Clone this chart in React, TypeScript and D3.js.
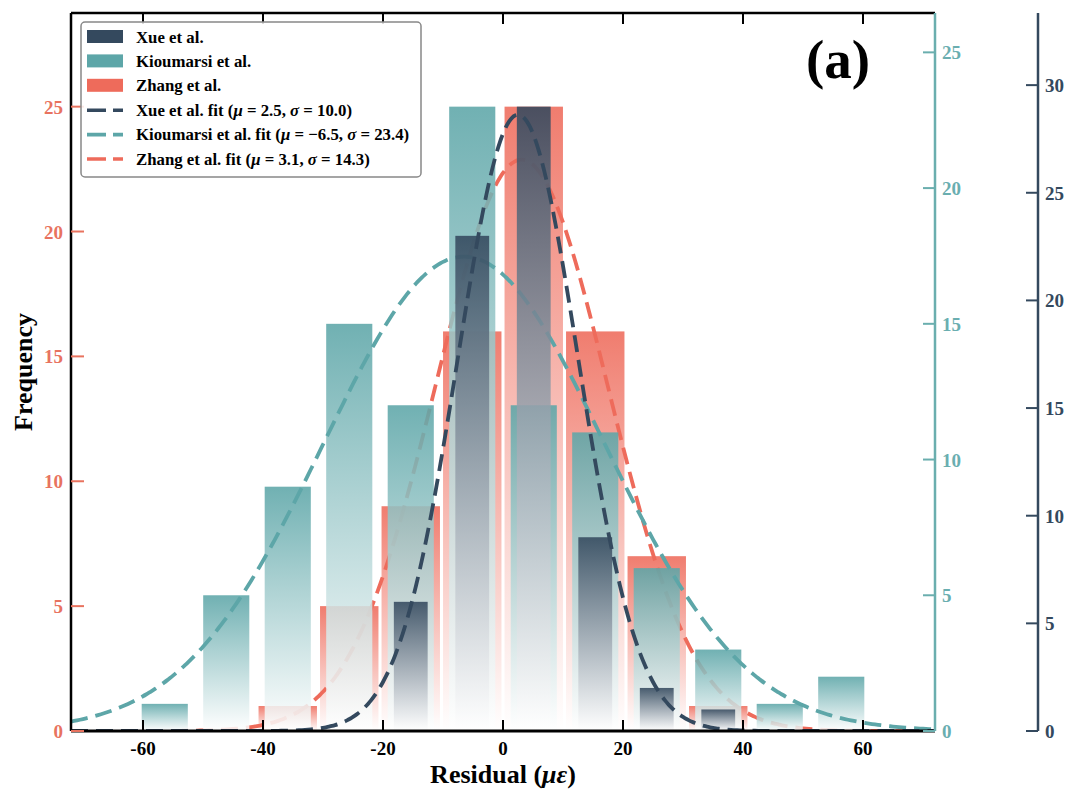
import React, { useRef, useLayoutEffect } from "react";
import * as d3 from "d3";

// shared histogram bin edges (µε)
const binEdges = [-61.5, -51.25, -41, -30.75, -20.5, -10.25, 0, 10.25, 20.5, 30.75, 41, 51.25, 61.5];

const zhangCounts = [0, 0, 1, 5, 9, 16, 25, 16, 7, 1, 0, 0];
const kioumarsiCounts = [1, 5, 9, 15, 12, 23, 12, 11, 6, 3, 1, 2];
const xueCounts = [0, 0, 0, 0, 6, 23, 29, 9, 2, 1, 0, 0];

const seriesNames = ["Xue et al.", "Kioumarsi et al.", "Zhang et al."];
const fitMu = [2.5, -6.5, 3.1];
const fitSigma = [10.0, 23.4, 14.3];

const xTicks = [-60, -40, -20, 0, 20, 40, 60];
const leftTicks = [0, 5, 10, 15, 20, 25];
const tealTicks = [0, 5, 10, 15, 20, 25];
const darkTicks = [0, 5, 10, 15, 20, 25, 30];

const RED = "#ee6b5b";
const TEAL = "#5da6a8";
const DARK = "#34495e";
const FONT = "'Liberation Serif', 'Times New Roman', serif";

const W = 1080;
const H = 804;
const plot = { left: 71, right: 935, top: 13, bottom: 731 };
const darkAxisX = 1038;

type Series = {
  key: string;
  counts: number[];
  color: string;
  rwidth: number;
  mu: number;
  sigma: number;
};

const App: React.FC = () => {
  const svgRef = useRef<SVGSVGElement>(null);

  useLayoutEffect(() => {
    document.body.style.margin = "0";
    if (!svgRef.current) return;
    const svg = d3.select(svgRef.current);
    svg.selectAll("*").remove();

    const x = d3.scaleLinear().domain([-72, 72]).range([plot.left, plot.right]);
    const yRed = d3.scaleLinear().domain([0, d3.max(zhangCounts)! * 1.15]).range([plot.bottom, plot.top]);
    const yTeal = d3.scaleLinear().domain([0, d3.max(kioumarsiCounts)! * 1.15]).range([plot.bottom, plot.top]);
    const yDark = d3.scaleLinear().domain([0, d3.max(xueCounts)! * 1.15]).range([plot.bottom, plot.top]);

    const defs = svg.append("defs");
    defs
      .append("clipPath")
      .attr("id", "plotClip")
      .append("rect")
      .attr("x", plot.left)
      .attr("y", plot.top)
      .attr("width", plot.right - plot.left)
      .attr("height", plot.bottom - plot.top);

    const series: (Series & { y: d3.ScaleLinear<number, number> })[] = [
      { key: "zhang", counts: zhangCounts, color: RED, rwidth: 0.95, mu: fitMu[2], sigma: fitSigma[2], y: yRed },
      { key: "kio", counts: kioumarsiCounts, color: TEAL, rwidth: 0.75, mu: fitMu[1], sigma: fitSigma[1], y: yTeal },
      { key: "xue", counts: xueCounts, color: DARK, rwidth: 0.55, mu: fitMu[0], sigma: fitSigma[0], y: yDark },
    ];

    series.forEach((s) => {
      const g = defs
        .append("linearGradient")
        .attr("id", `grad-${s.key}`)
        .attr("x1", 0)
        .attr("y1", 0)
        .attr("x2", 0)
        .attr("y2", 1);
      g.append("stop").attr("offset", "0%").attr("stop-color", s.color).attr("stop-opacity", 0.88);
      g.append("stop").attr("offset", "100%").attr("stop-color", "#ffffff").attr("stop-opacity", 0.85);
    });

    const body = svg.append("g").attr("clip-path", "url(#plotClip)");
    const binW = binEdges[1] - binEdges[0];

    // each twin axis: bars then its fitted curve
    series.forEach((s) => {
      const total = d3.sum(s.counts);
      const bins = s.counts
        .map((c, i) => ({ c, x0: binEdges[i], x1: binEdges[i + 1] }))
        .filter((d) => d.c > 0);

      body
        .append("g")
        .selectAll("rect")
        .data(bins)
        .join("rect")
        .attr("x", (d) => x((d.x0 + d.x1) / 2 - ((d.x1 - d.x0) * s.rwidth) / 2))
        .attr("width", (d) => x(d.x0 + (d.x1 - d.x0) * s.rwidth) - x(d.x0))
        .attr("y", (d) => s.y(d.c))
        .attr("height", (d) => s.y(0) - s.y(d.c))
        .attr("fill", `url(#grad-${s.key})`);

      const pdf = (v: number) =>
        (total * binW * Math.exp(-0.5 * ((v - s.mu) / s.sigma) ** 2)) / (s.sigma * Math.sqrt(2 * Math.PI));
      const pts = d3.range(-72, 72.01, 0.5);
      const line = d3
        .line<number>()
        .x((v) => x(v))
        .y((v) => s.y(pdf(v)))
        .curve(d3.curveMonotoneX);
      body
        .append("path")
        .datum(pts)
        .attr("d", line)
        .attr("fill", "none")
        .attr("stroke", s.color)
        .attr("stroke-width", 3.8)
        .attr("stroke-dasharray", "17 8");
    });

    // spines
    const frame = svg.append("g");
    frame
      .append("line")
      .attr("x1", plot.left)
      .attr("x2", plot.right)
      .attr("y1", plot.top)
      .attr("y2", plot.top)
      .attr("stroke", "#000")
      .attr("stroke-width", 2.5);
    frame
      .append("line")
      .attr("x1", plot.left)
      .attr("x2", plot.right)
      .attr("y1", plot.bottom)
      .attr("y2", plot.bottom)
      .attr("stroke", "#000")
      .attr("stroke-width", 3);
    frame
      .append("line")
      .attr("x1", plot.left)
      .attr("x2", plot.left)
      .attr("y1", plot.top)
      .attr("y2", plot.bottom)
      .attr("stroke", "#000")
      .attr("stroke-width", 2.5);
    frame
      .append("line")
      .attr("x1", plot.right)
      .attr("x2", plot.right)
      .attr("y1", plot.top)
      .attr("y2", plot.bottom)
      .attr("stroke", "#6aaeae")
      .attr("stroke-width", 2.5);
    frame
      .append("line")
      .attr("x1", darkAxisX)
      .attr("x2", darkAxisX)
      .attr("y1", plot.top)
      .attr("y2", plot.bottom)
      .attr("stroke", DARK)
      .attr("stroke-width", 2.5);

    const tickFont = (sel: d3.Selection<any, any, any, any>) =>
      sel.attr("font-family", FONT).attr("font-weight", "bold").attr("font-size", 19);

    // x ticks: bottom and top, pointing inward
    const xt = svg.append("g");
    xTicks.forEach((t) => {
      xt.append("line")
        .attr("x1", x(t))
        .attr("x2", x(t))
        .attr("y1", plot.bottom)
        .attr("y2", plot.bottom - 11)
        .attr("stroke", "#000")
        .attr("stroke-width", 2);
      xt.append("line")
        .attr("x1", x(t))
        .attr("x2", x(t))
        .attr("y1", plot.top)
        .attr("y2", plot.top + 11)
        .attr("stroke", "#000")
        .attr("stroke-width", 2);
      xt.append("text")
        .attr("x", x(t))
        .attr("y", plot.bottom + 24)
        .attr("text-anchor", "middle")
        .attr("fill", "#000")
        .call(tickFont)
        .text(t);
    });

    // left (Zhang) ticks
    leftTicks.forEach((t) => {
      svg
        .append("line")
        .attr("x1", plot.left)
        .attr("x2", plot.left + 13)
        .attr("y1", yRed(t))
        .attr("y2", yRed(t))
        .attr("stroke", "#e8735f")
        .attr("stroke-width", 2);
      svg
        .append("text")
        .attr("x", plot.left - 8)
        .attr("y", yRed(t) + 7)
        .attr("text-anchor", "end")
        .attr("fill", "#e8735f")
        .call(tickFont)
        .text(t);
    });

    // right (Kioumarsi) ticks
    tealTicks.forEach((t) => {
      svg
        .append("line")
        .attr("x1", plot.right)
        .attr("x2", plot.right - 12)
        .attr("y1", yTeal(t))
        .attr("y2", yTeal(t))
        .attr("stroke", "#6aaeae")
        .attr("stroke-width", 2);
      svg
        .append("text")
        .attr("x", plot.right + 7)
        .attr("y", yTeal(t) + 7)
        .attr("fill", "#6aaeb0")
        .call(tickFont)
        .text(t);
    });

    // offset (Xue) ticks
    darkTicks.forEach((t) => {
      svg
        .append("line")
        .attr("x1", darkAxisX)
        .attr("x2", darkAxisX - 12)
        .attr("y1", yDark(t))
        .attr("y2", yDark(t))
        .attr("stroke", DARK)
        .attr("stroke-width", 2);
      svg
        .append("text")
        .attr("x", darkAxisX + 7)
        .attr("y", yDark(t) + 7)
        .attr("fill", DARK)
        .call(tickFont)
        .text(t);
    });

    // axis titles
    const xl = svg
      .append("text")
      .attr("x", (plot.left + plot.right) / 2)
      .attr("y", 783)
      .attr("text-anchor", "middle")
      .attr("font-family", FONT)
      .attr("font-weight", "bold")
      .attr("font-size", 26)
      .attr("fill", "#000");
    xl.append("tspan").text("Residual (");
    xl.append("tspan").attr("font-style", "italic").text("με");
    xl.append("tspan").text(")");

    svg
      .append("text")
      .attr("transform", `translate(32, ${(plot.top + plot.bottom) / 2}) rotate(-90)`)
      .attr("text-anchor", "middle")
      .attr("font-family", FONT)
      .attr("font-weight", "bold")
      .attr("font-size", 26)
      .attr("fill", "#000")
      .text("Frequency");

    svg
      .append("text")
      .attr("x", 838)
      .attr("y", 78)
      .attr("text-anchor", "middle")
      .attr("font-family", FONT)
      .attr("font-weight", "bold")
      .attr("font-size", 55)
      .attr("fill", "#000")
      .text("(a)");

    // legend
    const lg = svg.append("g").attr("transform", "translate(81, 22)");
    lg.append("rect")
      .attr("width", 340)
      .attr("height", 155)
      .attr("rx", 4)
      .attr("fill", "#fff")
      .attr("fill-opacity", 0.85)
      .attr("stroke", "#888")
      .attr("stroke-width", 1.5);
    const patchColors = [DARK, TEAL, RED];
    const rowY = (i: number) => 15 + i * 24.4;
    patchColors.forEach((c, i) => {
      lg.append("rect").attr("x", 6).attr("y", rowY(i) - 7).attr("width", 36).attr("height", 13).attr("fill", c);
      lg.append("text")
        .attr("x", 55)
        .attr("y", rowY(i) + 5.5)
        .attr("font-family", FONT)
        .attr("font-weight", "bold")
        .attr("font-size", 16.8)
        .attr("fill", "#000")
        .text(seriesNames[i]);
    });
    patchColors.forEach((c, i) => {
      const yy = rowY(i + 3);
      lg.append("line")
        .attr("x1", 6)
        .attr("x2", 42)
        .attr("y1", yy)
        .attr("y2", yy)
        .attr("stroke", c)
        .attr("stroke-width", 3.6)
        .attr("stroke-dasharray", "19 7");
      const t = lg
        .append("text")
        .attr("x", 55)
        .attr("y", yy + 5.5)
        .attr("font-family", FONT)
        .attr("font-weight", "bold")
        .attr("font-size", 16.8)
        .attr("fill", "#000");
      const muStr = fitMu[i] < 0 ? `\u2212${Math.abs(fitMu[i]).toFixed(1)}` : fitMu[i].toFixed(1);
      t.append("tspan").text(`${seriesNames[i]} fit (`);
      t.append("tspan").attr("font-style", "italic").text("μ");
      t.append("tspan").text(` = ${muStr}, `);
      t.append("tspan").attr("font-style", "italic").text("σ");
      t.append("tspan").text(` = ${fitSigma[i].toFixed(1)})`);
    });
  }, []);

  return <svg ref={svgRef} width={W} height={H} style={{ display: "block", background: "#fff" }} />;
};

export default App;
